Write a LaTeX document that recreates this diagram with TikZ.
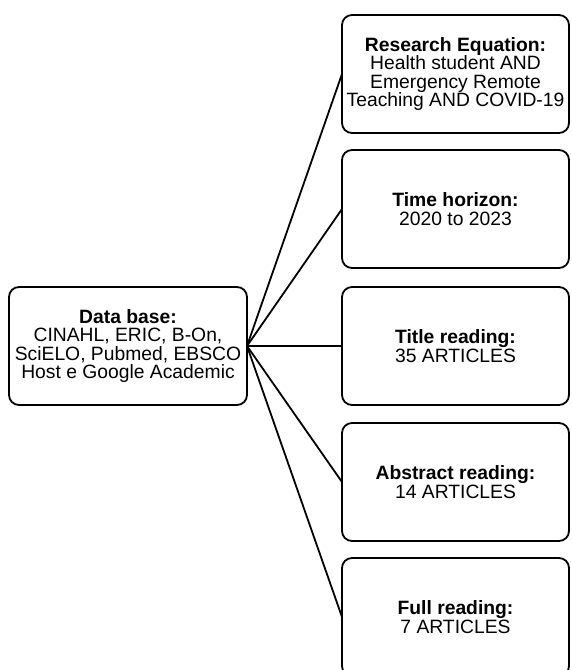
\documentclass[tikz,border=0pt]{standalone}
\usepackage{fontspec}
\setmainfont{Liberation Sans}
\usepackage{tikz}
\usetikzlibrary{positioning}
\tikzset{
  stagebox/.style={rounded corners=10pt, draw=black, line width=1.8pt, align=center,
              minimum width=227pt, minimum height=118pt, inner sep=4pt, outer sep=0pt,
              font=\fontsize{19.3}{18.2}\selectfont},
  sourcebox/.style={stagebox, minimum width=238pt},
  link/.style={line width=1.8pt, draw=black}
}
\begin{document}
\begin{tikzpicture}[x=1pt, y=-1pt]
\clip (0,0) rectangle (571,670);
\fill[white] (0,0) rectangle (571,670);
\node[sourcebox] (db) at (128,346) {\textbf{Data base:}\\CINAHL, ERIC, B-On,\\SciELO, Pubmed, EBSCO\\Host e Google Academic};
\node[stagebox] (eq) at (455.5,74) {\textbf{Research Equation:}\\Health student AND\\Emergency Remote\\Teaching AND COVID-19};
\node[stagebox] (time) at (455.5,209) {\textbf{Time horizon:}\\ 2020 to 2023};
\node[stagebox] (title) at (455.5,346) {\textbf{Title reading:}\\35 ARTICLES};
\node[stagebox] (abstract) at (455.5,482) {\textbf{Abstract reading:}\\14 ARTICLES};
\node[stagebox] (full) at (455.5,617) {\textbf{Full reading:}\\7 ARTICLES};
\foreach \n in {eq,time,title,abstract,full} \draw[link] (db.east) -- (\n.west);
\end{tikzpicture}
\end{document}
